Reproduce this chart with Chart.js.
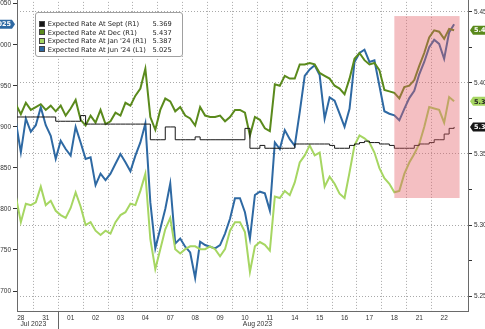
<!DOCTYPE html>
<html>
<head>
<meta charset="utf-8">
<script src="https://cdn.jsdelivr.net/npm/chart.js@4.4.0/dist/chart.umd.min.js"></script>
<style>
  html, body { margin: 0; padding: 0; background: #fff; overflow: hidden; }
  #wrap { position: relative; width: 485px; height: 329px; overflow: hidden; }
  #rateChart { position: absolute; left: -20px; top: -10px; }
  #legend {
    position: absolute; left: 35px; top: 12px; width: 148px; height: 45px;
    box-sizing: border-box; border: 1px solid #a0a0a0; border-radius: 3px;
    background: #fff; padding: 7px 0 0 3px;
    font-family: "DejaVu Sans", sans-serif; font-size: 6.7px; color: #222;
  }
  #legend .row { position: relative; height: 8.5px; line-height: 8.5px; white-space: nowrap; }
  #legend .sw { display: inline-block; width: 6px; height: 6px; vertical-align: -0.5px; margin-right: 2.7px; box-sizing: border-box; border: 0.5px solid #444; }
  #legend .val { position: absolute; right: 10.3px; top: 0; }
</style>
</head>
<body>
<div id="wrap">
  <canvas id="rateChart" width="525" height="340"></canvas>
  <div id="legend"></div>
</div>
<script>
// trading days on the axis, five intraday readings per day
const dayLabels = ['28', '31', '01', '02', '03', '04', '07', '08', '09', '10', '11', '14', '15', '16', '17', '18', '21', '22'];
const months = ['Jul 2023', 'Aug 2023'];
const monthFirstDay = [0, 2];
const slotsPerDay = 5;

const septRate = [
  5.376, 5.376, 5.376, 5.376, 5.376,
  5.376, 5.376, 5.376, 5.376, 5.373,
  5.373, 5.373, 5.373, 5.373, 5.377,
  5.371, 5.371, 5.371, 5.371, 5.371,
  5.371, 5.371, 5.371, 5.371, 5.371,
  5.371, 5.371, 5.371, 5.360, 5.360,
  5.360, 5.369, 5.369, 5.360, 5.360,
  5.360, 5.360, 5.362, 5.360, 5.360,
  5.360, 5.360, 5.360, 5.360, 5.360,
  5.360, 5.360, 5.368, 5.354, 5.354,
  5.356, 5.354, 5.354, 5.354, 5.354,
  5.354, 5.354, 5.357, 5.357, 5.357,
  5.357, 5.357, 5.357, 5.357, 5.356,
  5.354, 5.354, 5.354, 5.356, 5.357,
  5.358, 5.359, 5.358, 5.358, 5.357,
  5.357, 5.356, 5.354, 5.354, 5.354,
  5.354, 5.356, 5.357, 5.357, 5.358,
  5.360, 5.360, 5.364, 5.368, 5.369
];

const decRate = [
  5.384, 5.385, 5.378, 5.386, 5.381,
  5.383, 5.385, 5.381, 5.384, 5.380,
  5.384, 5.377, 5.382, 5.388, 5.374,
  5.370, 5.377, 5.372, 5.381, 5.371,
  5.373, 5.379, 5.377, 5.386, 5.384,
  5.391, 5.396, 5.410, 5.376, 5.367,
  5.381, 5.389, 5.387, 5.380, 5.383,
  5.377, 5.375, 5.370, 5.383, 5.377,
  5.376, 5.376, 5.377, 5.373, 5.376,
  5.381, 5.381, 5.379, 5.363, 5.376,
  5.374, 5.368, 5.366, 5.399, 5.398,
  5.405, 5.403, 5.403, 5.413, 5.413,
  5.414, 5.413, 5.407, 5.405, 5.403,
  5.398, 5.396, 5.392, 5.403, 5.417,
  5.421, 5.416, 5.413, 5.414, 5.409,
  5.395, 5.394, 5.393, 5.389, 5.397,
  5.398, 5.402, 5.412, 5.421, 5.432,
  5.437, 5.436, 5.431, 5.438, 5.437
];

const jan24Rate = [
  5.321, 5.320, 5.302, 5.315, 5.314,
  5.316, 5.327, 5.314, 5.317, 5.310,
  5.307, 5.305, 5.312, 5.323, 5.313,
  5.300, 5.302, 5.296, 5.293, 5.296,
  5.294, 5.302, 5.307, 5.309, 5.315,
  5.314, 5.324, 5.336, 5.290, 5.269,
  5.283, 5.297, 5.305, 5.283, 5.280,
  5.283, 5.285, 5.285, 5.283, 5.283,
  5.285, 5.283, 5.278, 5.283, 5.296,
  5.302, 5.302, 5.295, 5.267, 5.285,
  5.288, 5.286, 5.282, 5.320, 5.319,
  5.324, 5.321, 5.330, 5.344, 5.349,
  5.356, 5.349, 5.351, 5.327, 5.334,
  5.329, 5.322, 5.319, 5.337, 5.356,
  5.363, 5.361, 5.358, 5.351, 5.340,
  5.333, 5.329, 5.323, 5.324, 5.336,
  5.344, 5.350, 5.357, 5.369, 5.383,
  5.382, 5.381, 5.372, 5.390, 5.387
];

const jun24Rate = [
  4.914, 4.906, 4.869, 4.910, 4.894,
  4.902, 4.924, 4.902, 4.889, 4.861,
  4.883, 4.873, 4.865, 4.900, 4.881,
  4.861, 4.863, 4.829, 4.843, 4.835,
  4.843, 4.855, 4.867, 4.857, 4.846,
  4.865, 4.881, 4.904, 4.808, 4.752,
  4.776, 4.800, 4.831, 4.758, 4.764,
  4.754, 4.747, 4.716, 4.760, 4.756,
  4.754, 4.752, 4.756, 4.770, 4.788,
  4.813, 4.813, 4.796, 4.764, 4.817,
  4.821, 4.819, 4.798, 4.881, 4.873,
  4.896, 4.885, 4.877, 4.918, 4.962,
  4.970, 4.975, 4.963, 4.910, 4.936,
  4.932, 4.916, 4.900, 4.922, 4.979,
  4.990, 4.994, 4.979, 4.981, 4.950,
  4.919, 4.916, 4.914, 4.908, 4.922,
  4.935, 4.944, 4.964, 4.979, 4.997,
  5.006, 5.001, 4.983, 5.015, 5.025
];

const leftTicks = [4.70, 4.75, 4.80, 4.85, 4.90, 4.95, 5.00, 5.05];
const rightTicks = [5.25, 5.30, 5.35, 5.40, 5.45];
const rightMinorTicks = [5.275, 5.325, 5.375, 5.425];

// highlighted stretch: day index range and R1 value range
const shadeDays = [15.5, 18.12];
const shadeRates = [5.319, 5.447];

const toPoints = arr => arr.map((v, i) => ({ x: (i + 0.5) / slotsPerDay, y: v }));
const tickFont = { family: 'Liberation Sans', size: 6.5 };
const isMinor = v => rightMinorTicks.some(m => Math.abs(m - v) < 1e-6);

const decorPlugin = {
  id: 'decor',
  afterDatasetsDraw(chart) {
    const { ctx, scales } = chart;
    const x1 = scales.x.getPixelForValue(shadeDays[0]);
    const x2 = scales.x.getPixelForValue(shadeDays[1]);
    const y1 = scales.R1.getPixelForValue(shadeRates[1]);
    const y2 = scales.R1.getPixelForValue(shadeRates[0]);
    ctx.save();
    ctx.fillStyle = 'rgba(228, 96, 102, 0.40)';
    ctx.fillRect(x1, y1, x2 - x1, y2 - y1);
    ctx.restore();
  },
  afterDraw(chart) {
    const { ctx, scales, chartArea } = chart;
    ctx.save();
    // month row under the day numbers
    ctx.fillStyle = '#333';
    ctx.font = '6.8px "Liberation Sans"';
    ctx.textAlign = 'center';
    ctx.textBaseline = 'middle';
    months.forEach((m, i) => {
      const start = monthFirstDay[i];
      const end = i + 1 < months.length ? monthFirstDay[i + 1] : dayLabels.length;
      ctx.fillText(m, scales.x.getPixelForValue((start + end) / 2), chartArea.bottom + 13);
    });
    ctx.strokeStyle = '#666';
    ctx.lineWidth = 1;
    monthFirstDay.slice(1).forEach(d => {
      const px = Math.round(scales.x.getPixelForValue(d)) + 0.5;
      ctx.beginPath();
      ctx.moveTo(px, chartArea.bottom);
      ctx.lineTo(px, chart.height);
      ctx.stroke();
    });

    // last-value tags on both axes
    ctx.font = 'bold 6.5px "DejaVu Sans"';
    ctx.textAlign = 'left';
    chart.data.datasets.forEach(ds => {
      const last = ds.data[ds.data.length - 1].y;
      const scale = scales[ds.yAxisID];
      const y = scale.getPixelForValue(last);
      const h = 9;
      ctx.fillStyle = ds.borderColor;
      ctx.beginPath();
      if (ds.yAxisID === 'R1') {
        const tip = chartArea.right + 2;
        ctx.moveTo(tip, y);
        ctx.lineTo(tip + 3, y - h / 2);
        ctx.lineTo(tip + 34, y - h / 2);
        ctx.lineTo(tip + 34, y + h / 2);
        ctx.lineTo(tip + 3, y + h / 2);
        ctx.closePath();
        ctx.fill();
        ctx.fillStyle = ds.tagText;
        ctx.fillText(last.toFixed(3), tip + 4, y + 0.5);
      } else {
        const tip = chartArea.left - 2;
        ctx.moveTo(tip, y);
        ctx.lineTo(tip - 3, y - h / 2);
        ctx.lineTo(tip - 34, y - h / 2);
        ctx.lineTo(tip - 34, y + h / 2);
        ctx.lineTo(tip - 3, y + h / 2);
        ctx.closePath();
        ctx.fill();
        ctx.fillStyle = ds.tagText;
        ctx.textAlign = 'right';
        ctx.fillText(last.toFixed(3), tip - 4, y + 0.5);
        ctx.textAlign = 'left';
      }
    });
    ctx.restore();
  }
};

const xMin = 0.345, xMax = 18.458;

const chart = new Chart(document.getElementById('rateChart').getContext('2d'), {
  type: 'line',
  data: {
    datasets: [{
      label: 'Expected Rate At Sept (R1)',
      data: toPoints(septRate),
      yAxisID: 'R1',
      borderColor: '#161616',
      tagText: '#fff',
      borderWidth: 1,
      stepped: true
    }, {
      label: 'Expected Rate At Dec (R1)',
      data: toPoints(decRate),
      yAxisID: 'R1',
      borderColor: '#5a8a1c',
      tagText: '#fff',
      borderWidth: 2
    }, {
      label: "Expected Rate At Jan '24 (R1)",
      data: toPoints(jan24Rate),
      yAxisID: 'R1',
      borderColor: '#a6d662',
      tagText: '#222',
      borderWidth: 2
    }, {
      label: "Expected Rate At Jun '24 (L1)",
      data: toPoints(jun24Rate),
      yAxisID: 'L1',
      borderColor: '#2e69a3',
      tagText: '#fff',
      borderWidth: 2
    }]
  },
  options: {
    responsive: false,
    animation: false,
    layout: { padding: { top: 5, left: 0, right: 0, bottom: 0 } },
    elements: { point: { radius: 0 }, line: { tension: 0 } },
    plugins: { legend: { display: false }, tooltip: { enabled: false } },
    scales: {
      x: {
        type: 'linear', position: 'bottom', min: xMin, max: xMax,
        afterBuildTicks: s => { s.ticks = dayLabels.map((_, i) => ({ value: i + 0.5 })); },
        ticks: {
          callback: v => dayLabels[Math.floor(v)],
          autoSkip: false, maxRotation: 0, font: tickFont, color: '#333', padding: 3
        },
        grid: { display: false, drawTicks: false },
        border: { display: true, color: '#6a6a6a' },
        afterFit: s => { s.height = 19; }
      },
      xGrid: {
        type: 'linear', position: 'bottom', min: xMin, max: xMax,
        afterBuildTicks: s => { s.ticks = dayLabels.slice(1).map((_, i) => ({ value: i + 1 })); },
        ticks: { display: false },
        grid: { color: '#a9a9a9', drawTicks: false },
        border: { display: false, dash: [1, 2] },
        afterFit: s => { s.height = 0; }
      },
      L1: {
        type: 'linear', position: 'left', min: 4.6757, max: 5.0595,
        afterBuildTicks: s => { s.ticks = leftTicks.map(v => ({ value: v })); },
        ticks: { callback: v => v.toFixed(3), font: tickFont, color: '#333', padding: 2 },
        grid: { drawOnChartArea: false, tickLength: 4, tickColor: '#333' },
        border: { color: '#6a6a6a' },
        afterFit: s => { s.width = 37; }
      },
      R1: {
        type: 'linear', position: 'right', min: 5.2395, max: 5.4612,
        afterBuildTicks: s => { s.ticks = rightTicks.concat(rightMinorTicks).map(v => ({ value: v })); },
        ticks: {
          callback: v => isMinor(v) ? '' : v.toFixed(2),
          font: tickFont, color: '#333', padding: 2
        },
        grid: {
          color: c => (c.tick && isMinor(c.tick.value)) ? 'rgba(0,0,0,0)' : '#a9a9a9',
          tickColor: '#333', tickLength: 4, tickBorderDash: []
        },
        border: { color: '#6a6a6a', dash: [1, 2] },
        afterFit: s => { s.width = 37; }
      }
    }
  },
  plugins: [decorPlugin]
});

// legend box with the latest reading of every series
const legend = document.getElementById('legend');
chart.data.datasets.forEach(ds => {
  const row = document.createElement('div');
  row.className = 'row';
  const sw = document.createElement('span');
  sw.className = 'sw';
  sw.style.background = ds.borderColor;
  const name = document.createElement('span');
  name.textContent = ds.label;
  const val = document.createElement('span');
  val.className = 'val';
  val.textContent = ds.data[ds.data.length - 1].y.toFixed(3);
  row.append(sw, name, val);
  legend.appendChild(row);
});
</script>
</body>
</html>
